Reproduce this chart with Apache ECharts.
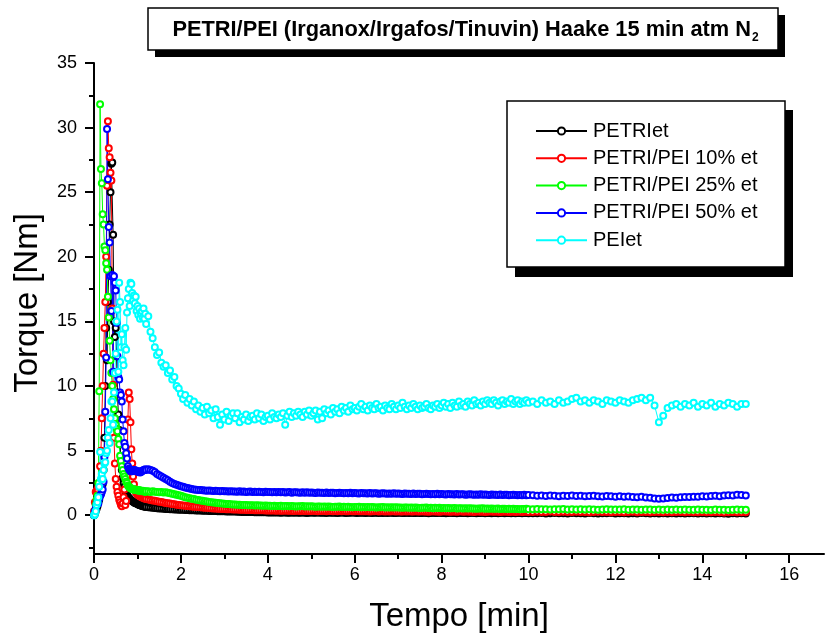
<!DOCTYPE html>
<html>
<head>
<meta charset="utf-8">
<script src="https://cdn.jsdelivr.net/npm/echarts@6/dist/echarts.min.js"></script>
<style>
  html, body { margin: 0; padding: 0; background: #fff; }
  #chart { width: 825px; height: 637px; }
</style>
</head>
<body>
<div id="chart"></div>
<script>
// Sampling instants [min]: 0.02 min up to 1.2, 0.05 min up to 10, then 0.1 min
const tempo = [
  0,0.02,0.04,0.06,0.08,0.1,0.12,0.14,0.16,0.18,
  0.2,0.22,0.24,0.26,0.28,0.3,0.32,0.34,0.36,0.38,
  0.4,0.42,0.44,0.46,0.48,0.5,0.52,0.54,0.56,0.58,
  0.6,0.62,0.64,0.66,0.68,0.7,0.72,0.74,0.76,0.78,
  0.8,0.82,0.84,0.86,0.88,0.9,0.92,0.94,0.96,0.98,
  1,1.02,1.04,1.06,1.08,1.1,1.12,1.14,1.16,1.18,1.2,
  1.25,1.3,1.35,1.4,1.45,1.5,1.55,1.6,1.65,1.7,1.75,1.8,1.85,1.9,1.95,2,2.05,2.1,2.15,2.2,
  2.25,2.3,2.35,2.4,2.45,2.5,2.55,2.6,2.65,2.7,2.75,2.8,2.85,2.9,2.95,3,3.05,3.1,3.15,3.2,
  3.25,3.3,3.35,3.4,3.45,3.5,3.55,3.6,3.65,3.7,3.75,3.8,3.85,3.9,3.95,4,4.05,4.1,4.15,4.2,
  4.25,4.3,4.35,4.4,4.45,4.5,4.55,4.6,4.65,4.7,4.75,4.8,4.85,4.9,4.95,5,5.05,5.1,5.15,5.2,
  5.25,5.3,5.35,5.4,5.45,5.5,5.55,5.6,5.65,5.7,5.75,5.8,5.85,5.9,5.95,6,6.05,6.1,6.15,6.2,
  6.25,6.3,6.35,6.4,6.45,6.5,6.55,6.6,6.65,6.7,6.75,6.8,6.85,6.9,6.95,7,7.05,7.1,7.15,7.2,
  7.25,7.3,7.35,7.4,7.45,7.5,7.55,7.6,7.65,7.7,7.75,7.8,7.85,7.9,7.95,8,8.05,8.1,8.15,8.2,
  8.25,8.3,8.35,8.4,8.45,8.5,8.55,8.6,8.65,8.7,8.75,8.8,8.85,8.9,8.95,9,9.05,9.1,9.15,9.2,
  9.25,9.3,9.35,9.4,9.45,9.5,9.55,9.6,9.65,9.7,9.75,9.8,9.85,9.9,9.95,10,
  10.1,10.2,10.3,10.4,10.5,10.6,10.7,10.8,10.9,11,
  11.1,11.2,11.3,11.4,11.5,11.6,11.7,11.8,11.9,12,
  12.1,12.2,12.3,12.4,12.5,12.6,12.7,12.8,12.9,13,
  13.1,13.2,13.3,13.4,13.5,13.6,13.7,13.8,13.9,14,
  14.1,14.2,14.3,14.4,14.5,14.6,14.7,14.8,14.9,15
];

// Torque [Nm] for each blend, one value per sampling instant
const petriEt = [
  0,0.1,0.3,0.5,0.7,1.0,1.2,1.5,1.7,2.0,
  2.4,3.5,6.0,10.0,14.5,12.0,16.5,19.0,22.5,25.0,
  27.2,27.3,21.7,15.0,13.8,14.5,12.3,9.5,7.8,6.6,
  5.5,4.4,3.5,2.9,2.5,2.2,1.9,1.7,1.55,1.45,
  1.35,1.3,1.2,1.15,1.1,1.05,1.0,0.95,0.92,0.9,
  0.86,0.84,0.8,0.78,0.76,0.73,0.7,0.69,0.67,0.65,0.63,
  0.61,0.6,0.58,0.56,0.55,0.53,0.52,0.5,0.49,0.48,0.47,0.46,0.45,0.44,0.43,0.42,0.42,0.41,0.4,0.39,
  0.38,0.38,0.37,0.36,0.36,0.35,0.34,0.34,0.33,0.33,0.32,0.32,0.31,0.31,0.3,0.3,0.29,0.29,0.28,0.28,
  0.28,0.27,0.27,0.26,0.26,0.26,0.25,0.25,0.25,0.24,0.24,0.24,0.23,0.23,0.23,0.22,0.22,0.22,0.22,0.21,
  0.21,0.2,0.22,0.21,0.2,0.19,0.21,0.2,0.22,0.2,0.19,0.21,0.2,0.18,0.2,0.21,0.19,0.2,0.22,0.2,
  0.19,0.2,0.18,0.21,0.2,0.19,0.2,0.18,0.2,0.21,0.19,0.18,0.2,0.19,0.21,0.2,0.18,0.19,0.2,0.19,
  0.18,0.2,0.19,0.17,0.19,0.2,0.18,0.19,0.17,0.2,0.18,0.19,0.2,0.17,0.18,0.19,0.2,0.18,0.17,0.19,
  0.18,0.19,0.17,0.18,0.2,0.18,0.17,0.19,0.18,0.16,0.18,0.19,0.17,0.18,0.2,0.17,0.18,0.16,0.18,0.19,
  0.17,0.18,0.16,0.19,0.17,0.18,0.17,0.16,0.18,0.19,0.17,0.16,0.18,0.17,0.19,0.16,0.17,0.18,0.16,0.17,
  0.18,0.16,0.17,0.19,0.16,0.17,0.18,0.16,0.17,0.15,0.18,0.17,0.16,0.18,0.17,0.16,
  0.16,0.15,0.17,0.14,0.16,0.18,0.15,0.16,0.14,0.17,
  0.15,0.16,0.13,0.17,0.15,0.14,0.16,0.15,0.17,0.14,
  0.16,0.15,0.13,0.16,0.14,0.17,0.15,0.14,0.16,0.13,
  0.15,0.14,0.16,0.13,0.15,0.14,0.16,0.15,0.13,0.15,
  0.14,0.16,0.13,0.15,0.14,0.12,0.15,0.14,0.16,0.14
];

const pei10 = [
  0.3,1.0,1.8,1.9,2.0,2.2,2.5,3.8,5.0,7.5,
  10.0,12.5,14.5,16.5,20.0,25.5,30.5,28.4,27.7,26.5,
  25.9,16.0,10.1,6.0,4.0,2.8,2.2,1.8,1.5,1.2,
  1.0,0.8,0.7,0.9,1.4,2.0,0.8,1.1,3.0,7.4,
  9.5,9.0,7.2,5.1,4.0,3.0,2.4,2.0,1.8,1.7,
  1.6,1.55,1.5,1.45,1.45,1.4,1.35,1.35,1.3,1.3,1.25,
  1.22,1.18,1.15,1.12,1.08,1.05,1.02,0.98,0.95,0.92,0.9,0.87,0.85,0.82,0.8,0.78,0.76,0.74,0.72,0.7,
  0.68,0.66,0.65,0.63,0.62,0.6,0.58,0.57,0.56,0.55,0.53,0.52,0.51,0.5,0.49,0.48,0.47,0.46,0.46,0.45,
  0.44,0.44,0.43,0.42,0.42,0.41,0.41,0.4,0.4,0.39,0.39,0.38,0.38,0.38,0.37,0.37,0.36,0.37,0.36,0.35,
  0.36,0.35,0.34,0.36,0.35,0.34,0.35,0.33,0.34,0.35,0.33,0.34,0.32,0.34,0.33,0.32,0.34,0.33,0.31,0.33,
  0.32,0.33,0.31,0.32,0.33,0.31,0.32,0.3,0.32,0.31,0.33,0.3,0.31,0.32,0.3,0.31,0.32,0.3,0.31,0.3,
  0.31,0.3,0.29,0.31,0.3,0.32,0.29,0.3,0.31,0.29,0.3,0.28,0.3,0.31,0.29,0.3,0.28,0.29,0.31,0.29,
  0.3,0.28,0.29,0.3,0.28,0.29,0.31,0.28,0.29,0.27,0.29,0.3,0.28,0.29,0.27,0.28,0.3,0.28,0.29,0.27,
  0.28,0.29,0.27,0.28,0.3,0.27,0.28,0.29,0.27,0.28,0.26,0.28,0.29,0.27,0.28,0.26,0.27,0.29,0.28,0.27,
  0.28,0.27,0.26,0.28,0.27,0.29,0.26,0.27,0.28,0.26,0.27,0.28,0.26,0.27,0.28,0.26,
  0.26,0.27,0.25,0.26,0.28,0.25,0.26,0.27,0.25,0.26,
  0.27,0.25,0.26,0.24,0.26,0.27,0.25,0.26,0.24,0.25,
  0.26,0.24,0.25,0.27,0.24,0.25,0.26,0.24,0.25,0.26,
  0.24,0.25,0.23,0.25,0.26,0.24,0.25,0.23,0.24,0.25,
  0.24,0.23,0.25,0.24,0.22,0.24,0.25,0.23,0.24,0.23
];

const pei25 = [
  0,0.3,0.8,1.2,1.5,2.5,9.6,31.8,26.8,25.7,
  23.3,22.5,20.8,20.5,19.5,19.0,16.9,15.3,13.5,12.0,
  11.0,10.0,9.0,8.2,7.5,7.0,6.7,6.5,5.9,5.5,
  4.6,4.2,3.8,3.5,3.2,3.0,2.8,2.6,2.5,2.3,
  2.2,2.15,2.1,2.05,2.05,2.0,2.0,1.95,2.0,1.95,
  1.95,1.9,1.95,1.9,1.9,1.85,1.9,1.85,1.85,1.8,1.85,
  1.85,1.8,1.85,1.82,1.8,1.78,1.8,1.76,1.78,1.75,1.7,1.66,1.62,1.58,1.55,1.5,1.45,1.4,1.36,1.32,
  1.28,1.25,1.2,1.18,1.14,1.12,1.08,1.06,1.03,1.0,0.98,0.96,0.94,0.92,0.9,0.89,0.87,0.86,0.85,0.84,
  0.83,0.82,0.81,0.8,0.8,0.79,0.78,0.78,0.77,0.76,0.77,0.75,0.76,0.74,0.75,0.73,0.74,0.72,0.73,0.72,
  0.71,0.73,0.7,0.72,0.71,0.69,0.71,0.7,0.68,0.7,0.69,0.71,0.68,0.69,0.67,0.69,0.68,0.66,0.68,0.67,
  0.66,0.68,0.65,0.67,0.66,0.64,0.66,0.65,0.67,0.64,0.65,0.63,0.65,0.64,0.62,0.64,0.63,0.65,0.62,0.63,
  0.62,0.64,0.61,0.63,0.62,0.6,0.62,0.61,0.63,0.6,0.61,0.59,0.61,0.6,0.62,0.59,0.6,0.58,0.6,0.59,
  0.58,0.6,0.57,0.59,0.58,0.56,0.58,0.57,0.59,0.56,0.57,0.55,0.57,0.56,0.58,0.55,0.56,0.54,0.56,0.55,
  0.54,0.56,0.53,0.55,0.54,0.52,0.54,0.53,0.55,0.52,0.53,0.51,0.53,0.52,0.54,0.51,0.52,0.5,0.52,0.51,
  0.5,0.52,0.49,0.51,0.5,0.48,0.5,0.49,0.51,0.48,0.49,0.47,0.49,0.48,0.5,0.47,
  0.47,0.48,0.46,0.47,0.45,0.47,0.46,0.48,0.45,0.46,
  0.45,0.47,0.44,0.46,0.45,0.43,0.45,0.46,0.44,0.45,
  0.44,0.46,0.43,0.45,0.44,0.42,0.44,0.45,0.43,0.44,
  0.43,0.45,0.42,0.44,0.43,0.45,0.42,0.43,0.44,0.42,
  0.43,0.41,0.44,0.42,0.43,0.41,0.43,0.44,0.42,0.42
];

const pei50 = [
  0,0.3,0.5,0.8,1.0,0.9,1.3,1.5,1.6,1.8,
  2.0,2.6,4.5,8.0,12.2,29.9,26.0,22.3,21.1,18.5,
  15.8,18.6,11.1,18.5,18.0,17.4,14.9,12.3,10.7,10.5,
  9.5,9.3,8.8,7.4,6.5,5.6,5.3,4.8,4.4,3.8,
  3.6,3.5,3.4,3.5,3.4,3.5,3.45,3.5,3.45,3.4,
  3.4,3.35,3.4,3.3,3.35,3.4,3.45,3.5,3.5,3.55,3.5,
  3.55,3.5,3.45,3.35,3.2,3.1,3.0,2.9,2.8,2.7,2.6,2.5,2.42,2.35,2.3,2.25,2.2,2.15,2.1,2.06,
  2.03,2.0,1.98,1.96,1.95,1.93,1.92,1.9,1.91,1.89,1.88,1.9,1.87,1.86,1.88,1.85,1.86,1.84,1.85,1.83,
  1.84,1.82,1.85,1.81,1.83,1.8,1.82,1.84,1.8,1.81,1.79,1.82,1.8,1.78,1.81,1.79,1.8,1.77,1.8,1.78,
  1.79,1.77,1.8,1.76,1.78,1.79,1.75,1.77,1.78,1.76,1.74,1.77,1.75,1.78,1.74,1.76,1.75,1.73,1.76,1.74,
  1.75,1.73,1.76,1.72,1.74,1.75,1.71,1.73,1.74,1.72,1.7,1.73,1.71,1.74,1.7,1.72,1.71,1.69,1.72,1.7,
  1.71,1.69,1.72,1.68,1.7,1.71,1.67,1.69,1.7,1.68,1.66,1.69,1.67,1.7,1.66,1.68,1.67,1.65,1.68,1.66,
  1.67,1.65,1.68,1.64,1.66,1.67,1.63,1.65,1.66,1.64,1.62,1.65,1.63,1.66,1.62,1.64,1.63,1.61,1.64,1.62,
  1.63,1.61,1.64,1.6,1.62,1.63,1.59,1.61,1.62,1.6,1.58,1.61,1.59,1.62,1.58,1.6,1.59,1.57,1.6,1.58,
  1.59,1.57,1.6,1.56,1.58,1.59,1.55,1.57,1.58,1.56,1.54,1.57,1.55,1.58,1.54,1.56,
  1.55,1.5,1.53,1.48,1.52,1.5,1.47,1.51,1.49,1.52,
  1.48,1.5,1.46,1.49,1.51,1.47,1.45,1.48,1.46,1.44,
  1.46,1.43,1.45,1.42,1.4,1.43,1.38,1.36,1.3,1.28,
  1.3,1.34,1.38,1.36,1.4,1.42,1.41,1.44,1.43,1.46,
  1.45,1.48,1.5,1.47,1.52,1.55,1.53,1.58,1.56,1.52
];

const peiEt = [
  0,0.05,0.3,0.8,1.0,1.4,2.2,4.9,2.8,3.2,
  2.8,3.5,4.0,4.1,4.8,5.0,6.0,6.6,5.6,7.5,
  8.8,8.8,7.0,9.5,11.0,12.5,15.0,15.9,11.1,18.0,
  16.5,13.0,14.0,12.0,11.6,13.0,14.5,12.8,15.7,16.8,
  17.5,16.2,18.0,17.9,17.2,16.6,17.0,16.4,16.9,15.8,
  16.2,15.5,16.0,15.2,15.6,15.8,15.3,16.0,15.2,15.6,14.8,
  15.4,14.2,13.7,13.0,12.4,12.6,11.8,11.5,11.6,11.0,11.2,10.5,10.7,10.0,9.8,9.4,9.0,9.3,8.7,9.0,
  8.5,8.8,8.2,8.5,8.0,8.3,7.8,8.4,7.9,8.1,7.5,8.2,7.6,7.0,7.8,7.4,8.0,7.3,7.7,7.9,
  7.5,7.9,7.2,7.6,7.4,7.8,7.3,7.6,7.7,7.4,7.9,7.5,7.8,7.3,7.6,7.7,7.4,7.9,7.6,7.5,
  7.8,7.6,7.9,7.0,7.7,8.0,7.6,7.9,7.7,8.0,7.8,7.6,8.0,7.8,8.1,7.7,7.9,8.1,7.4,8.0,
  7.5,8.2,7.9,8.1,7.8,8.3,8.0,8.2,7.9,8.4,8.1,8.3,8.0,8.5,8.2,8.3,8.1,8.4,8.6,8.2,
  8.4,8.1,8.5,8.3,8.2,8.6,8.3,8.4,8.1,8.5,8.3,8.2,8.6,8.4,8.2,8.5,8.3,8.7,8.4,8.2,
  8.5,8.3,8.6,8.4,8.2,8.5,8.3,8.4,8.6,8.3,8.2,8.5,8.4,8.6,8.3,8.5,8.7,8.4,8.6,8.3,
  8.7,8.5,8.4,8.8,8.5,8.6,8.4,8.8,8.6,8.5,8.9,8.6,8.7,8.5,8.8,8.6,8.9,8.7,8.6,8.9,
  8.7,8.5,8.8,8.9,8.6,8.8,8.7,9.0,8.6,8.8,8.9,8.6,8.8,8.7,8.9,8.7,
  8.8,8.6,8.9,8.7,8.8,8.6,8.9,8.7,8.8,9.0,
  9.1,8.8,8.9,8.7,8.9,8.8,8.6,8.9,8.8,8.7,
  8.9,8.8,8.7,8.9,9.0,9.1,8.9,9.1,8.5,7.2,
  7.7,8.3,8.5,8.6,8.4,8.6,8.5,8.7,8.4,8.6,
  8.5,8.7,8.4,8.6,8.5,8.7,8.6,8.4,8.6,8.6
];

const seriesNames = ['PETRIet', 'PETRI/PEI 10% et', 'PETRI/PEI 25% et', 'PETRI/PEI 50% et', 'PEIet'];
const seriesValues = [petriEt, pei10, pei25, pei50, peiEt];
const seriesColors = ['#000000', '#ff0000', '#00ff00', '#0000ff', '#00ffff'];

const xMajorTicks = [0, 2, 4, 6, 8, 10, 12, 14, 16];
const xMinorTicks = [1, 3, 5, 7, 9, 11, 13, 15];
const yMajorTicks = [0, 5, 10, 15, 20, 25, 30, 35];
const yMinorTicks = [-2.5, 2.5, 7.5, 12.5, 17.5, 22.5, 27.5, 32.5];

const FONT = '"Liberation Sans", Arial, sans-serif';

const chart = echarts.init(document.getElementById('chart'), null, { renderer: 'canvas' });

const series = seriesNames.map((name, k) => ({
  name,
  type: 'line',
  data: tempo.map((t, i) => [t, seriesValues[k][i]]),
  symbol: 'emptyCircle',
  symbolSize: 6,
  color: seriesColors[k],
  lineStyle: { width: 1, color: seriesColors[k] },
  itemStyle: { color: seriesColors[k], borderWidth: 1 },
  emphasis: { disabled: true },
  clip: true
}));

const axisBlack = { color: '#000', width: 2 };

chart.setOption({
  animation: false,
  backgroundColor: '#fff',
  grid: { left: 94, right: 1, top: 63, bottom: 83, containLabel: false },
  xAxis: [
    {
      type: 'value', min: 0, max: 16.8, position: 'bottom',
      axisLine: { show: true, onZero: false, lineStyle: axisBlack },
      axisTick: { show: true, length: 9, lineStyle: axisBlack, customValues: xMajorTicks },
      axisLabel: { show: true, customValues: xMajorTicks, fontSize: 18, fontFamily: FONT, color: '#000', margin: 12 },
      splitLine: { show: false }
    },
    {
      type: 'value', min: 0, max: 16.8, position: 'bottom',
      axisLine: { show: false, onZero: false },
      axisTick: { show: true, length: 5, lineStyle: axisBlack, customValues: xMinorTicks },
      axisLabel: { show: false },
      splitLine: { show: false }
    }
  ],
  yAxis: [
    {
      type: 'value', min: -3, max: 35, position: 'left',
      axisLine: { show: true, onZero: false, lineStyle: axisBlack },
      axisTick: { show: true, length: 9, lineStyle: axisBlack, customValues: yMajorTicks },
      axisLabel: { show: true, customValues: yMajorTicks, fontSize: 18, fontFamily: FONT, color: '#000', margin: 17 },
      splitLine: { show: false }
    },
    {
      type: 'value', min: -3, max: 35, position: 'left',
      axisLine: { show: false, onZero: false },
      axisTick: { show: true, length: 5, lineStyle: axisBlack, customValues: yMinorTicks },
      axisLabel: { show: false },
      splitLine: { show: false }
    }
  ],
  legend: {
    data: seriesNames,
    orient: 'vertical',
    left: 535,
    top: 121,
    itemWidth: 51,
    itemHeight: 9,
    itemGap: 7.3,
    padding: 0,
    selectedMode: false,
    textStyle: { fontSize: 20, fontFamily: FONT, color: '#000', padding: [0, 0, 0, 1] }
  },
  graphic: [
    // title frame with drop shadow
    { type: 'rect', z: 0, shape: { x: 155, y: 15, width: 630, height: 42 }, style: { fill: '#000' } },
    { type: 'rect', z: 1, shape: { x: 148, y: 8, width: 630, height: 42 }, style: { fill: '#fff', stroke: '#000', lineWidth: 1.5 } },
    { type: 'text', z: 2, style: { text: 'PETRI/PEI (Irganox/Irgafos/Tinuvin) Haake 15 min atm N', x: 751, y: 30, align: 'right', verticalAlign: 'middle', font: 'bold 21.8px ' + FONT, fill: '#000' } },
    { type: 'text', z: 2, style: { text: '2', x: 752, y: 38, align: 'left', verticalAlign: 'middle', font: 'bold 12px ' + FONT, fill: '#000' } },
    // legend frame with drop shadow
    { type: 'rect', z: 0, shape: { x: 515, y: 110, width: 278, height: 167 }, style: { fill: '#000' } },
    { type: 'rect', z: 1, shape: { x: 507, y: 101, width: 278, height: 166 }, style: { fill: '#fff', stroke: '#000', lineWidth: 1.5 } },
    // axis titles
    { type: 'text', z: 2, x: 28, y: 303, rotation: Math.PI / 2, style: { text: 'Torque [Nm]', x: 0, y: 0, align: 'center', verticalAlign: 'middle', font: '33px ' + FONT, fill: '#000' } },
    { type: 'text', z: 2, style: { text: 'Tempo [min]', x: 459, y: 617, align: 'center', verticalAlign: 'middle', font: '33px ' + FONT, fill: '#000' } }
  ],
  series
});
</script>
</body>
</html>
